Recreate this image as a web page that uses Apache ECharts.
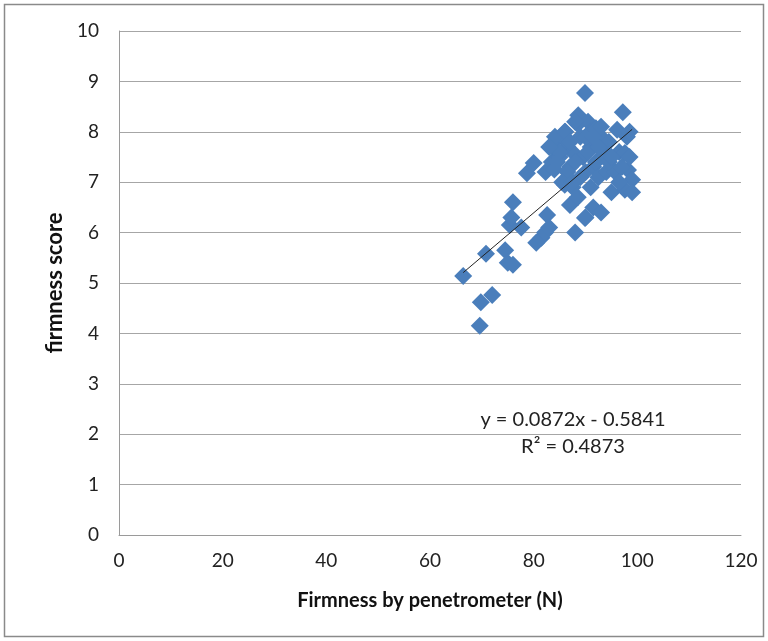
<!DOCTYPE html>
<html>
<head>
<meta charset="utf-8">
<script src="https://cdn.jsdelivr.net/npm/echarts@6/dist/echarts.min.js"></script>
<style>
  html, body { margin: 0; padding: 0; background: #fff; }
  #chart { width: 768px; height: 641px; }
</style>
</head>
<body>
<div id="chart"></div>
<script>
// penetrometer firmness (N) vs. sensory firmness score
const firmnessN = [
  66.4, 69.6, 69.8, 72.0, 70.8, 74.5, 75.0, 76.0, 75.4, 76.0, 75.7, 77.6,
  78.7, 80.0, 80.5, 81.5, 82.2, 82.6, 83.0, 82.3, 83.5, 83.5, 84.5, 85.0,
  84.0, 85.5, 86.0, 86.5, 87.0, 87.5, 86.0, 87.5, 87.0, 88.0, 88.5, 88.6,
  88.5, 89.0, 89.5, 89.9, 90.0, 90.5, 91.0, 91.0, 91.5, 90.0, 89.9, 91.0,
  91.5, 92.0, 92.0, 92.5, 93.0, 93.0, 93.5, 93.8, 94.0, 94.5, 95.0, 95.7,
  96.1, 96.5, 97.2, 97.6, 97.6, 98.0, 98.2, 98.5, 99.0, 99.0, 97.0, 98.5,
  84.1, 86.1, 85.0, 87.0, 88.0, 89.0, 90.5, 92.5, 94.5, 86.5, 84.5, 83.0,
  88.0, 90.0, 91.5, 93.0, 95.0, 96.5, 85.5, 87.5
];
const firmnessScore = [
  5.14, 4.15, 4.62, 4.76, 5.58, 5.65, 5.40, 5.36, 6.15, 6.60, 6.30, 6.10,
  7.18, 7.38, 5.80, 5.90, 6.00, 6.35, 6.10, 7.20, 7.40, 7.70, 7.85, 7.50,
  7.25, 7.90, 8.00, 7.70, 7.30, 7.60, 6.95, 6.90, 6.55, 6.00, 6.70, 8.33,
  8.15, 7.90, 7.50, 8.77, 7.20, 8.20, 8.00, 7.70, 6.50, 6.30, 6.29, 6.90,
  7.30, 8.07, 7.40, 7.10, 7.90, 6.40, 7.60, 7.54, 7.20, 7.80, 6.80, 7.20,
  8.04, 7.60, 8.39, 7.58, 6.85, 7.90, 7.24, 7.50, 7.05, 6.80, 7.30, 8.00,
  7.90, 8.00, 7.60, 7.80, 7.40, 7.10, 7.60, 7.70, 7.40, 7.20, 7.40, 7.70,
  8.20, 7.90, 7.90, 8.10, 7.50, 7.00, 7.00, 7.00
];
// linear trendline from the chart's own equation
const slope = 0.0872;
const intercept = -0.5841;
const trendRange = [66.4, 99.0];
const xTicks = [0, 20, 40, 60, 80, 100, 120];
const yTicks = [0, 1, 2, 3, 4, 5, 6, 7, 8, 9, 10];

const points = firmnessN.map((x, i) => [x, firmnessScore[i]]);
const trend = trendRange.map(x => [x, slope * x + intercept]);

const font = "Lato, 'Open Sans', sans-serif";
const myChart = echarts.init(document.getElementById("chart"));
myChart.setOption({
  animation: false,
  grid: { left: 119, right: 27, top: 31, bottom: 106 },
  xAxis: {
    type: "value",
    min: xTicks[0],
    max: xTicks[xTicks.length - 1],
    interval: 20,
    axisLine: { show: true, lineStyle: { color: "#9a9a9a", width: 1 } },
    axisTick: { show: false },
    splitLine: { show: false },
    axisLabel: { color: "#222", fontSize: 19, fontFamily: font, margin: 16 },
    name: "Firmness by penetrometer (N)",
    nameLocation: "middle",
    nameGap: 56,
    nameTextStyle: { color: "#111", fontSize: 20, fontWeight: "bold", fontFamily: font }
  },
  yAxis: {
    type: "value",
    min: yTicks[0],
    max: yTicks[yTicks.length - 1],
    interval: 1,
    axisLine: { show: true, lineStyle: { color: "#9a9a9a", width: 1 } },
    axisTick: { show: false },
    splitLine: { show: true, lineStyle: { color: "#a6a6a6", width: 1 } },
    axisLabel: { color: "#222", fontSize: 19, fontFamily: font, margin: 20 },
    name: "firmness score",
    nameLocation: "middle",
    nameGap: 46,
    nameTextStyle: { color: "#111", fontSize: 22, fontWeight: "bold", fontFamily: font }
  },
  series: [
    {
      name: "score",
      type: "scatter",
      symbol: "diamond",
      symbolSize: 18,
      itemStyle: { color: "#4a7ebb", opacity: 1 },
      data: points,
      z: 2
    },
    {
      name: "trend",
      type: "line",
      showSymbol: false,
      symbol: "none",
      lineStyle: { color: "#222", width: 1 },
      data: trend,
      z: 3
    }
  ],
  graphic: [
    {
      type: "rect",
      shape: { x: 4.5, y: 4.5, width: 759, height: 632 },
      style: { fill: "none", stroke: "#8a8a8a", lineWidth: 1.5 },
      silent: true
    },
    {
      type: "text",
      x: 573, y: 420,
      style: { text: "y = 0.0872x - 0.5841", fill: "#222", font: "20px " + font, align: "center", verticalAlign: "middle" }
    },
    {
      type: "text",
      x: 573, y: 447,
      style: { text: "R² = 0.4873", fill: "#222", font: "20px " + font, align: "center", verticalAlign: "middle" }
    }
  ]
});
</script>
</body>
</html>
